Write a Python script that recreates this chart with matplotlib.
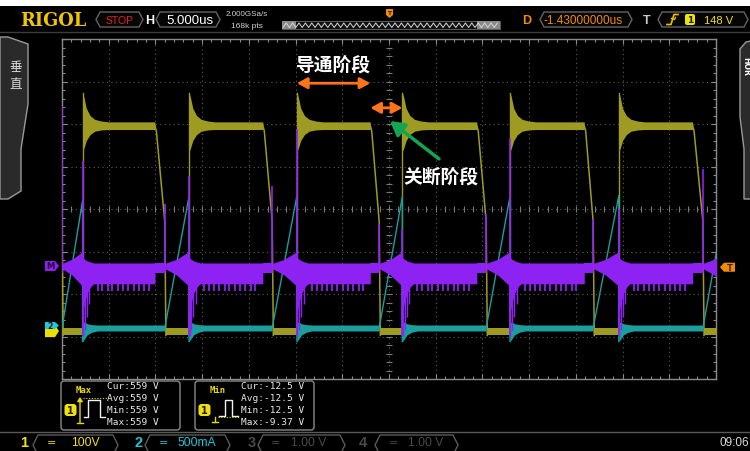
"""
DS2000 screen: switch voltage (CH1), switch current (CH2) and power (Math).
"""
import matplotlib
matplotlib.use("Agg")

import matplotlib.pyplot as plt
from matplotlib.patches import Polygon, Rectangle, FancyBboxPatch
import numpy as np

OUT_FILE = "out.png"
W, H = 750, 452

# graticule in pixels: 14 x 8 divisions
GX0, GX1, GY0, GY1 = 62, 716, 40, 380

T_PER_DIV = 5.0       # us/div
CH1_SCALE = 100.0     # V/div
CH2_SCALE = 0.5       # A/div
MATH_SCALE = 50.0     # W/div
CH1_POS = -2.85       # div
CH2_POS = -2.80
MATH_POS = -1.34
TRIG_LEVEL = 148.0    # V
TRIG_DELAY = 1.43     # us

# switching instants (us)
rise_t = [-32.8, -21.4, -9.85, 1.43, 12.95, 24.6, 36.1]
fall_start_t = [-36.0, -25.05, -13.5, -2.0, 9.4, 20.9, 32.5]
fall_end_t = [-35.0, -24.0, -12.5, -1.05, 10.4, 21.85, 33.6]

# CH1 voltage (V)
v_on = 481.0
v_on_band = 9.0
v_off_lo, v_off_hi = -12.5, 6.0
v_knee = 255.0
ring_t = [0.0, 0.15, 0.4, 0.8, 1.3, 2.0, 2.8]
ring_hi = [559, 548, 522, 505, 496, 492, 490]
ring_lo = [420, 428, 446, 460, 468, 471, 472]

# CH2 current (A)
i_peak = [1.50, 1.55, 1.56, 1.55, 1.55, 1.56, 1.55]
i_band = 0.035
cring_t = [0.0, 0.2, 0.5, 1.0, 1.6]
cring_hi = [0.06, 0.07, 0.05, 0.04, 0.035]
cring_lo = [-0.16, -0.13, -0.08, -0.05, -0.035]

# Math power (W)
p_on_hi, p_on_lo, p_tooth = 3.5, -21.0, -30.0
p_fall_lo = -8.0
funnel_frac = [0.0, 0.5, 1.0]
funnel_hi = [3.0, 8.0, 17.0]
funnel_lo = [-3.0, -11.0, -24.0]
pring_t = [0.0, 0.2, 0.5, 0.9, 1.2]
pring_hi = [10, 8, 6, 4.5, 3.5]
pring_lo = [-55, -45, -32, -24, -21]
pdip_t = [0.05, 0.25, 0.45, 0.7]
pdip_w = [-82, -75, -60, -45]
tooth_t = [1.6, 2.1, 2.7, 3.2, 3.8, 4.3, 4.9, 5.5, 6.0, 6.6, 7.1]
rise_spike = [124, 106, 161, 44, 150, 67, 67]
fall_spike = [188, 73, 94, 49, 61, 55, 114]

YEL = "#9e9b22"
YEL_TXT = "#f0e010"
CYAN = "#1a9e9e"
CYAN_TXT = "#22c4d4"
PURP = "#8e22f2"
ORANGE = "#ff7418"
ORANGE_UI = "#f28c00"
GREEN = "#12a653"
CJK = ["Noto Sans CJK SC", "DejaVu Sans"]


def ych1(v):
    return CH1_POS + np.asarray(v, dtype=float) / CH1_SCALE

def ych2(i):
    return CH2_POS + np.asarray(i, dtype=float) / CH2_SCALE

def ymath(p):
    return MATH_POS + np.asarray(p, dtype=float) / MATH_SCALE

def t_px(t):
    return GX0 + (t / T_PER_DIV + 7.0) / 14.0 * (GX1 - GX0)

def div_px(d):
    return GY0 + (4.0 - d) / 8.0 * (GY1 - GY0)


fig = plt.figure(figsize=(W / 100, H / 100), dpi=100, facecolor="black")

ui = fig.add_axes([0, 0, 1, 1])
ui.set_xlim(0, W)
ui.set_ylim(H, 0)
ui.axis("off")

ax = fig.add_axes([GX0 / W, 1 - GY1 / H, (GX1 - GX0) / W, (GY1 - GY0) / H], zorder=2)
ax.set_facecolor("black")
ax.set_xlim(-7 * T_PER_DIV, 7 * T_PER_DIV)
ax.set_ylim(-4, 4)


def chevron(x0, x1, yc, h, ec="#626262", fc="#060606", d=4):
    pts = [(x0, yc), (x0 + d, yc - h / 2), (x1 - d, yc - h / 2), (x1, yc),
           (x1 - d, yc + h / 2), (x0 + d, yc + h / 2)]
    ui.add_patch(Polygon(pts, closed=True, fc=fc, ec=ec, lw=1))


def tag(x0, x1, yc, h, fc, label, point="right", tc="#1a1a1a", fs=6):
    if point == "right":
        pts = [(x0, yc - h / 2), (x1 - 4, yc - h / 2), (x1, yc), (x1 - 4, yc + h / 2), (x0, yc + h / 2)]
        cx = (x0 + x1 - 4) / 2
    else:
        pts = [(x1, yc - h / 2), (x0 + 4, yc - h / 2), (x0, yc), (x0 + 4, yc + h / 2), (x1, yc + h / 2)]
        cx = (x0 + 4 + x1) / 2
    ui.add_patch(Polygon(pts, closed=True, fc=fc, ec="none", zorder=3))
    ui.text(cx, yc, label, color=tc, fontsize=fs, fontweight="bold",
            ha="center", va="center", zorder=4)


# ---- top bar
ui.add_patch(Rectangle((0, 0), W, 7, fc="white", ec="none"))
ui.plot([0, W], [33, 33], color="#3c3c3c", lw=1)
ui.text(20, 20.5, "RIGOL", family="DejaVu Serif", fontweight="bold", fontsize=12.8,
        color="#efc600", ha="left", va="center")
chevron(96, 143, 20.5, 15)
ui.text(119.5, 20.5, "STOP", color="#e02020", fontsize=7.5, family="Liberation Sans",
        ha="center", va="center")
ui.text(150, 20.5, "H", color="white", fontsize=9, fontweight="bold",
        family="Liberation Sans", ha="center", va="center")
chevron(156, 220, 20.5, 15)
ui.text(189.5, 21, "5.000us", color="white", fontsize=9.5, family="Liberation Sans",
        ha="center", va="center")
ui.text(246.5, 15, "2.000GSa/s", color="#d0d0d0", fontsize=5.8, family="Liberation Sans",
        ha="center", va="center")
ui.text(246.5, 26, "168k pts", color="#d0d0d0", fontsize=6, family="Liberation Sans",
        ha="center", va="center")

# memory overview strip
ui.add_patch(Rectangle((282, 22), 218, 8, fc="#101010", ec="#6a6a6a", lw=0.6))
ui.add_patch(Rectangle((282, 22), 14, 8, fc="#8a8a8a", ec="none"))
ui.add_patch(Rectangle((477, 22), 23, 8, fc="#8a8a8a", ec="none"))
zx = np.arange(283, 500, 3.2)
zy = np.where(np.arange(len(zx)) % 2 == 0, 28.5, 24.0)
ui.plot(zx, zy, color="#d8d8d8", lw=0.7)
ui.add_patch(Polygon([(386, 10), (393, 10), (393, 16), (389.5, 19), (386, 16)],
                     closed=True, fc=ORANGE_UI, ec="none"))
ui.text(389.5, 13.5, "T", color="#3a2000", fontsize=4.5, fontweight="bold",
        ha="center", va="center")

ui.text(526.5, 20.5, "D", color=ORANGE_UI, fontsize=9, fontweight="bold",
        family="Liberation Sans", ha="center", va="center")
chevron(540, 632, 20.5, 15)
ui.text(583, 21, "-1.43000000us", color=ORANGE_UI, fontsize=8.5, family="Liberation Sans",
        ha="center", va="center")
ui.text(646.5, 20.5, "T", color="#c8c8c8", fontsize=9, fontweight="bold",
        family="Liberation Sans", ha="center", va="center")
chevron(658, 748, 20.5, 15)
ui.plot([667, 671, 674, 678], [25.5, 25.5, 15.5, 15.5], color="#f0c000", lw=1.2)
ui.plot([671.5, 674.5, 675.5], [19.5, 20.5, 18.5], color="#f0c000", lw=1)
ui.add_patch(FancyBboxPatch((685, 15), 10, 11, boxstyle="round,pad=0,rounding_size=2",
                            fc=YEL_TXT, ec="none"))
ui.text(690, 20.8, "1", color="#202000", fontsize=6.5, fontweight="bold",
        ha="center", va="center")
ui.text(719, 21, "148 V", color=YEL_TXT, fontsize=8, family="Liberation Sans",
        ha="center", va="center")

# ---- side tabs
ui.add_patch(Polygon([(0, 38), (8, 38), (28, 45), (28, 105), (21, 150), (21, 192),
                      (8, 200), (0, 200)], closed=True, fc="#2a2a2a", ec="#9a9a9a", lw=1))
ui.text(16, 68, "垂", family=CJK, color="#dcdcdc", fontsize=9, ha="center", va="center")
ui.text(16, 85, "直", family=CJK, color="#dcdcdc", fontsize=9, ha="center", va="center")
ui.add_patch(Polygon([(760, 40), (746, 43), (740, 50), (740, 118), (744, 150), (744, 200),
                      (760, 200)], closed=True, fc="#2a2a2a", ec="#9a9a9a", lw=1))
ui.text(745.5, 57, "HOR", color="white", fontsize=5.5, fontweight="bold", rotation=-90,
        ha="center", va="top")

# ---- channel markers
tag(45, 59, div_px(MATH_POS), 10, PURP, "M", tc="#24003c")
tag(45, 59, div_px(CH1_POS) + 1, 12, "#e8e000", "")
tag(45, 59, div_px(CH2_POS) - 2.5, 7, "#20c8d8", "2", fs=5.5)
tag(720, 735, div_px(CH1_POS + TRIG_LEVEL / CH1_SCALE), 9, ORANGE_UI, "T",
    point="left", tc="#3a2000")

# ---- graticule
ax.set_xticks(np.arange(-35, 36, 5))
ax.set_xticks(np.arange(-35, 35.01, 1), minor=True)
ax.set_yticks(np.arange(-4, 5))
ax.set_yticks(np.arange(-4, 4.01, 0.2), minor=True)
ax.tick_params(which="both", direction="in", top=True, right=True, labelbottom=False,
               labelleft=False, color="#8a8a8a", width=0.8)
ax.tick_params(which="major", length=3.5)
ax.tick_params(which="minor", length=2)
ax.grid(True, which="major", color="#5c5c5c", ls=(0, (1, 3)), lw=0.8)
ax.set_axisbelow(True)
for s in ax.spines.values():
    s.set_color("#8a8a8a")
    s.set_linewidth(1)
ym = np.arange(-4, 4.01, 0.2)
xm = np.arange(-35, 35.01, 1)
ax.plot(np.zeros_like(ym), ym, ls="none", marker="_", ms=4, mew=0.8, color="#7a7a7a", zorder=1)
ax.plot(xm, np.zeros_like(xm), ls="none", marker="|", ms=4, mew=0.8, color="#7a7a7a", zorder=1)

# ---- CH1 voltage
for i in range(len(rise_t) - 1):
    r, fs = rise_t[i], fall_start_t[i + 1]
    t = [r + d for d in ring_t] + [fs]
    hi = ring_hi + [v_on + v_on_band]
    lo = ring_lo + [v_on - v_on_band]
    ax.fill_between(t, ych1(lo), ych1(hi), color=YEL, lw=0, zorder=3)
    ax.plot([r, r], ych1([v_off_hi, ring_hi[0]]), color=YEL, lw=1, zorder=3)
for i in range(len(fall_end_t)):
    fs, fe, r = fall_start_t[i], fall_end_t[i], rise_t[i]
    ax.plot([fs, fs + 0.15, fe, fe + 0.12], ych1([v_on, v_on - 12, v_knee, v_off_lo]),
            color=YEL, lw=1.1, zorder=3)
    ax.fill_between([fe + 0.12, r], ych1(v_off_lo), ych1(v_off_hi), color=YEL, lw=0, zorder=3)

# ---- CH2 current
for i in range(len(fall_end_t)):
    fe, r = fall_end_t[i], rise_t[i]
    ax.plot([fe, r, r], ych2([0, i_peak[i], cring_lo[0]]), color=CYAN, lw=1, zorder=4)
for i in range(len(rise_t) - 1):
    r, fe = rise_t[i], fall_end_t[i + 1]
    t = [r + d for d in cring_t] + [fe]
    ax.fill_between(t, ych2(cring_lo + [-i_band]), ych2(cring_hi + [i_band]),
                    color=CYAN, lw=0, zorder=4)

# ---- Math power
for i in range(len(rise_t) - 1):
    r, fs = rise_t[i], fall_start_t[i + 1]
    t = [r + d for d in pring_t] + [fs]
    ax.fill_between(t, ymath(pring_lo + [p_on_lo]), ymath(pring_hi + [p_on_hi]),
                    color=PURP, lw=0, zorder=5)
    ax.vlines([r + d for d in pdip_t], ymath(p_on_lo), ymath(pdip_w), color=PURP,
              lw=1, zorder=5)
    teeth = [r + d for d in tooth_t if r + d < fs]
    ax.vlines(teeth, ymath(p_on_lo), ymath(p_tooth), color=PURP, lw=1.3, zorder=5)
for i in range(len(fall_end_t)):
    fs, fe, r = fall_start_t[i], fall_end_t[i], rise_t[i]
    ax.fill_between([fs, fe], ymath(p_fall_lo), ymath(p_on_hi), color=PURP, lw=0, zorder=5)
    t = [fe + f * (r - fe) for f in funnel_frac]
    ax.fill_between(t, ymath(funnel_lo), ymath(funnel_hi), color=PURP, lw=0, zorder=5)
ax.vlines(rise_t, ymath(pdip_w[0]), ymath(rise_spike), color=PURP, lw=1.2, zorder=5)
ax.vlines(fall_end_t, ymath(p_fall_lo), ymath(fall_spike), color=PURP, lw=1.2, zorder=5)

# trigger markers on the graticule
xt = t_px(TRIG_DELAY)
ui.add_patch(Polygon([(xt - 4, 45), (xt + 4, 45), (xt + 4, 53), (xt, 57), (xt - 4, 53)],
                     closed=True, fc=ORANGE_UI, ec="none", zorder=5))
ui.text(xt, 49.5, "T", color="#3a2000", fontsize=5, fontweight="bold",
        ha="center", va="center", zorder=6)
x0 = t_px(0)
ui.add_patch(Polygon([(x0 - 3, 40), (x0 + 3, 40), (x0, 44)], closed=True,
                     fc=ORANGE_UI, ec="none", zorder=5))

# ---- annotations
dbl = dict(arrowstyle="<|-|>,head_length=0.55,head_width=0.3", color=ORANGE,
           lw=2, shrinkA=0, shrinkB=0, mutation_scale=11)
ax.annotate("", xy=(fall_start_t[3], 2.96), xytext=(rise_t[2], 2.96), arrowprops=dbl, zorder=7)
ax.annotate("", xy=(rise_t[3], 2.38), xytext=(fall_start_t[3], 2.38), arrowprops=dbl, zorder=7)
ax.text((rise_t[2] + fall_start_t[3]) / 2, 3.39, "导通阶段", family=CJK, fontweight="bold",
        fontsize=13.5, color="white", ha="center", va="center", zorder=7)
ax.annotate("", xy=(0.11, 2.07), xytext=(5.35, 1.18),
            arrowprops=dict(arrowstyle="-|>,head_length=0.7,head_width=0.4", color=GREEN,
                            lw=2.5, shrinkA=0, shrinkB=0, mutation_scale=12), zorder=7)
ax.text(5.57, 0.78, "关断阶段", family=CJK, fontweight="bold", fontsize=13.5,
        color="white", ha="center", va="center", zorder=7)

ui.add_patch(Rectangle((79, 357), 25, 14, fc="#8a2be2", ec="none", zorder=5))
ui.text(91.5, 364.5, "Math", color="#1c0034", fontsize=7.5, family="Liberation Sans",
        fontweight="bold", ha="center", va="center", zorder=6)
ui.text(109, 364.5, "Scale = 50.0 W", color="#7d22dc", fontsize=8, family="Liberation Sans",
        ha="left", va="center", zorder=6)

# ---- measurement panels
MONO = "DejaVu Sans Mono"
ui.plot([0, W], [432.5, 432.5], color="#5a5a5a", lw=1)
meas = [
    (61, "Max", ["Cur:559 V", "Avg:559 V", "Min:559 V", "Max:559 V"]),
    (195, "Min", ["Cur:-12.5 V", "Avg:-12.5 V", "Min:-12.5 V", "Max:-9.37 V"]),
]
for bx, name, rows in meas:
    ui.add_patch(FancyBboxPatch((bx, 382), 119, 49, boxstyle="round,pad=0,rounding_size=3",
                                fc="black", ec="#8a8a8a", lw=1))
    ui.text(bx + 23, 391, name, color="#e8d800", fontsize=6.5, family=MONO,
            fontweight="bold", ha="center", va="center")
    for k, row in enumerate(rows):
        ui.text(bx + 46, 387 + k * 11.7, row, color="#e8e8e8", fontsize=6.8, family=MONO,
                ha="left", va="center")
    ui.add_patch(FancyBboxPatch((bx + 3.5, 405), 12, 12, boxstyle="round,pad=0,rounding_size=3",
                                fc=YEL_TXT, ec="none"))
    ui.text(bx + 9.5, 411.3, "1", color="#202000", fontsize=7, fontweight="bold",
            ha="center", va="center")

# pulse glyphs
ui.annotate("", xy=(80, 398), xytext=(80, 424),
            arrowprops=dict(arrowstyle="-|>,head_length=0.3,head_width=0.2", color="#e8d800",
                            lw=1, shrinkA=0, shrinkB=0, mutation_scale=8))
ui.plot([77, 83], [424, 424], color="#e8d800", lw=1)
ui.plot([83, 107], [399, 399], color="#e8d800", lw=0.8, ls=(0, (1, 1.5)))
ui.plot([84, 88, 88, 100, 100, 105], [418, 418, 401, 401, 418, 418], color="#f0f0f0", lw=1)
ui.plot([218, 239], [418, 418], color="#e8d800", lw=0.8, ls=(0, (1, 1.5)))
ui.plot([215, 215], [418, 423], color="#e8d800", lw=1)
ui.plot([212, 218], [423, 423], color="#e8d800", lw=1)
ui.plot([219, 225, 225, 232, 232, 238], [417, 417, 401, 401, 417, 417], color="#f0f0f0", lw=1)

# ---- channel status line
chan = [
    (24.5, 33, 118, "1", "100V", 85, YEL_TXT),
    (138.5, 145, 230, "2", "500mA", 196.5, CYAN_TXT),
    (251.5, 258, 345, "3", "1.00 V", 309, "#4a4a4a"),
    (362.5, 375, 458, "4", "1.00 V", 426, "#4a4a4a"),
]
for nx, b0, b1, num, text, tx, col in chan:
    ui.text(nx, 443, num, color=col, fontsize=10.5, fontweight="bold",
            family="Liberation Sans", ha="center", va="center")
    chevron(b0, b1, 446, 20, ec="#5a5a5a", fc="black", d=5)
    ui.text(b0 + 18, 443, "=", color=col, fontsize=8, ha="center", va="center")
    ui.text(tx, 443.5, text, color=col, fontsize=8.7, family="Liberation Sans",
            ha="center", va="center")
ui.text(749, 443.5, "09:06", color="#d8d8d8", fontsize=8.5, family="Liberation Sans",
        ha="right", va="center")

fig.savefig(OUT_FILE, dpi=100, facecolor="black")
